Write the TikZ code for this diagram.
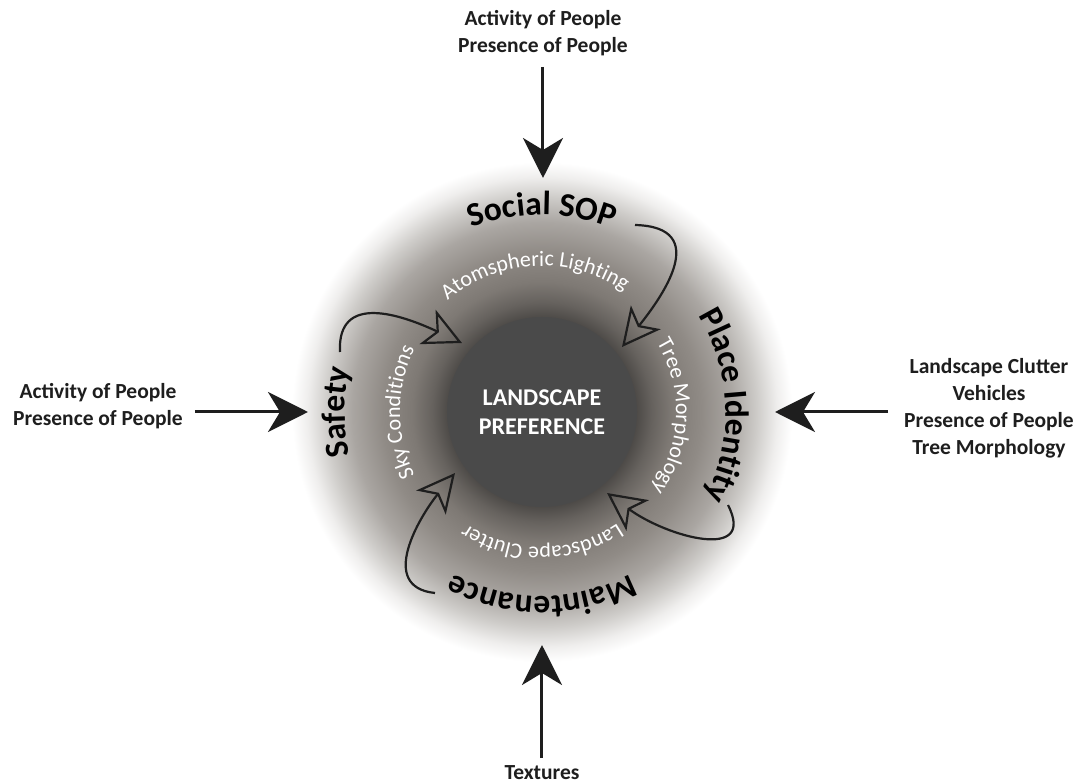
\documentclass[tikz,border=0pt]{standalone}
\usepackage{fontspec}
\setmainfont{Carlito}
\usetikzlibrary{arrows.meta,decorations.text}

\definecolor{inkgray}{HTML}{1E1E1E}
\definecolor{prefgray}{HTML}{4A4A4A}
\definecolor{glowA}{RGB}{78,75,72}
\definecolor{glowB}{RGB}{102,98,94}
\definecolor{glowC}{RGB}{126,121,116}
\definecolor{glowD}{RGB}{144,139,134}
\definecolor{glowE}{RGB}{170,166,162}
\definecolor{glowF}{RGB}{206,204,201}
\definecolor{glowG}{RGB}{239,238,237}
\pgfdeclareradialshading{glow}{\pgfpoint{0bp}{0bp}}{color(0bp)=(glowA); color(9.5bp)=(glowA); color(11bp)=(glowB); color(13bp)=(glowC); color(16bp)=(glowD); color(19bp)=(glowE); color(21.5bp)=(glowF); color(23.5bp)=(glowG); color(25bp)=(white); color(50bp)=(white)}

\newcommand{\ringbold}{\bfseries\fontsize{33.5}{34}\selectfont}
\newcommand{\ringthin}{\fontsize{22}{22}\selectfont}

\begin{document}
\begin{tikzpicture}[x=1pt, y=1pt,
    sidetext/.style={font=\bfseries\fontsize{21.5}{27}\selectfont, align=center, text=inkgray, inner sep=0pt},
    feed/.style={-{Stealth[length=40pt, width=40pt, inset=12pt]}, line width=3pt, draw=inkgray},
    loop/.style={-{Stealth[open, length=38pt, width=38pt, inset=10pt]}, line width=2.2pt, draw=inkgray, line join=round},
    ringlabel/.style={decorate, decoration={text along path, text align=center, text={#1}}},
    ringwhite/.style={decorate, decoration={text along path, text align=center, text color=white, text={#1}}}]
    \useasboundingbox (-542,-372) rectangle (537,412);
    \fill[white] (-542,-372) rectangle (537,412);

    % Glow and centre
    \shade[shading=glow] (0,0) circle (250);
    \node (pref) [circle, fill=prefgray, minimum size=190pt, inner sep=0pt, text=white, align=center, font=\bfseries\fontsize{24}{29}\selectfont] {LANDSCAPE\\PREFERENCE};

    % Outer labels
    \path[ringlabel={|\ringbold|Social SOP}] (170:197) arc[start angle=170, end angle=10, radius=197];
    \path[ringlabel={|\ringbold|Place Identity}] (92:184) arc[start angle=92, end angle=-88, radius=184];
    \path[ringlabel={|\ringbold|Maintenance}] (0:184) arc[start angle=0, end angle=-180, radius=184];
    \path[ringlabel={|\ringbold|Safety}] (270:197) arc[start angle=270, end angle=90, radius=197];

    % Inner labels
    \path[ringwhite={|\ringthin|Atomspheric Lighting}] (183:146) arc[start angle=183, end angle=3, radius=146];
    \path[ringwhite={|\ringthin|Tree Morphology}] (88:134) arc[start angle=88, end angle=-92, radius=134];
    \path[ringwhite={|\ringthin|Landscape Clutter}] (0:135) arc[start angle=0, end angle=-180, radius=135];
    \path[ringwhite={|\ringthin|Sky Conditions}] (270:142) arc[start angle=270, end angle=90, radius=142];

    % Side texts
    \node (top) [sidetext] at (1,379) {Activity of People\\Presence of People};
    \node (left) [sidetext] at (-444,6) {Activity of People\\Presence of People};
    \node (right) [sidetext] at (447,4) {Landscape Clutter\\Vehicles\\Presence of People\\Tree Morphology};
    \node (bottom) [sidetext] at (0,-361) {Textures};

    % Arrow ends
    \coordinate (topend) at (1,234);
    \coordinate (leftend) at (-234,0);
    \coordinate (rightend) at (233,0);
    \coordinate (bottomend) at (0,-233);
    \coordinate (socialout) at (93,187);
    \coordinate (socialin) at (80,65);
    \coordinate (safetyout) at (-202,60);
    \coordinate (safetyin) at (-80,69);
    \coordinate (maintout) at (-107,-181);
    \coordinate (maintin) at (-87,-61);
    \coordinate (placeout) at (186,-93);
    \coordinate (placein) at (65,-81);

    % Incoming arrows
    \draw[feed] (1,345) -- (topend);
    \draw[feed] (-347,0) -- (leftend);
    \draw[feed] (346,0) -- (rightend);
    \draw[feed] (0,-346) -- (bottomend);

    % Loop arrows
    \draw[loop] (socialout) .. controls (170,185) and (120,115) .. (socialin);
    \draw[loop] (safetyout) .. controls (-205,120) and (-140,97) .. (safetyin);
    \draw[loop] (maintout) .. controls (-165,-175) and (-122,-104) .. (maintin);
    \draw[loop] (placeout) .. controls (215,-150) and (125,-125) .. (placein);
\end{tikzpicture}
\end{document}
